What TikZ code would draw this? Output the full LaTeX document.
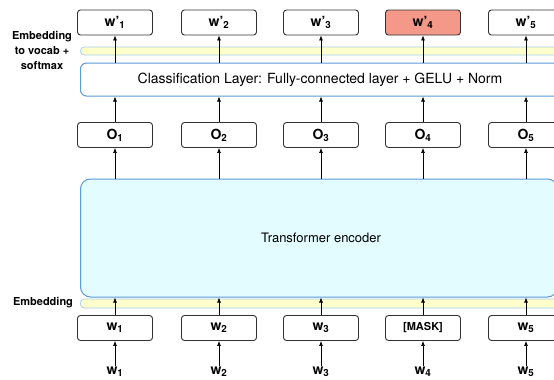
\documentclass[tikz,border=0pt]{standalone}
\usepackage{fontspec}
\setmainfont{TeX Gyre Heros}
\usetikzlibrary{arrows.meta, calc}

\definecolor{layerblue}{HTML}{5B9BD5}
\definecolor{bandblue}{HTML}{A9CDEB}
\definecolor{bandyellow}{HTML}{FFFFCC}
\definecolor{encfill}{HTML}{E2FCFF}
\definecolor{maskred}{HTML}{F4988A}

\begin{document}
\begin{tikzpicture}[x=1pt, y=-1pt]

            \tikzstyle{tokbox} = [draw=black!80, line width=0.9pt, rounded corners=3pt, minimum width=75pt, minimum height=25pt, inner sep=0, font=\fontsize{14}{16}\selectfont\bfseries];
            \tikzstyle{band} = [draw=bandblue, fill=bandyellow, line width=0.8pt, rounded corners=4pt];
            \tikzstyle{layer} = [draw=layerblue, line width=1pt, rounded corners=6pt, inner sep=0];
            \tikzstyle{sidelabel} = [font=\fontsize{11}{15}\selectfont\bfseries, align=center, inner sep=0];
            \tikzstyle{inlabel} = [font=\fontsize{14}{16}\selectfont\bfseries, inner sep=1pt];
            \tikzstyle{arrow} = [line width=0.7pt, -{Latex[length=5pt, width=4pt]}];

            \clip (0,0) rectangle (554,380);

            % output tokens
            \node[tokbox] (wp1) at (115,22.5) {w’\textsubscript{1}};
            \node[tokbox] (wp2) at (219,22.5) {w’\textsubscript{2}};
            \node[tokbox] (wp3) at (321,22.5) {w’\textsubscript{3}};
            \node[tokbox, fill=maskred] (wp4) at (423,22.5) {w’\textsubscript{4}};
            \node[tokbox] (wp5) at (526,22.5) {w’\textsubscript{5}};

            % bands and layers
            \node[band, minimum width=500pt, minimum height=8pt, anchor=west] (topband) at (80,51) {};
            \node[layer, minimum width=482pt, minimum height=33pt, anchor=west] (cls) at (80,79.5) {};
            \node[font=\fontsize{14}{16}\selectfont] (clstext) at (320,79.5) {Classification Layer: Fully-connected layer + GELU + Norm};

            \node[tokbox] (o1) at (115,135) {O\textsubscript{1}};
            \node[tokbox] (o2) at (219,135) {O\textsubscript{2}};
            \node[tokbox] (o3) at (321,135) {O\textsubscript{3}};
            \node[tokbox] (o4) at (423,135) {O\textsubscript{4}};
            \node[tokbox] (o5) at (526,135) {O\textsubscript{5}};

            \node[layer, fill=encfill, rounded corners=10pt, minimum width=477pt, minimum height=118pt, anchor=west] (enc) at (80,238) {};
            \node[font=\fontsize{13}{15}\selectfont] (enctext) at (321,238) {Transformer encoder};

            \node[band, minimum width=500pt, minimum height=9pt, anchor=west] (botband) at (80,303.5) {};

            % input tokens
            \node[tokbox] (w1) at (115,328) {w\textsubscript{1}};
            \node[tokbox] (w2) at (219,328) {w\textsubscript{2}};
            \node[tokbox] (w3) at (321,328) {w\textsubscript{3}};
            \node[tokbox, font=\fontsize{11}{12}\selectfont\bfseries] (w4) at (423,328) {[MASK]};
            \node[tokbox] (w5) at (526,328) {w\textsubscript{5}};

            \node[inlabel] (in1) at (115,372) {w\textsubscript{1}};
            \node[inlabel] (in2) at (219,372) {w\textsubscript{2}};
            \node[inlabel] (in3) at (321,372) {w\textsubscript{3}};
            \node[inlabel] (in4) at (423,372) {w\textsubscript{4}};
            \node[inlabel] (in5) at (526,372) {w\textsubscript{5}};

            % side labels
            \node[sidelabel] (vocablabel) at (42,50) {Embedding\\to vocab +\\softmax};
            \node[sidelabel] (emblabel) at (43,303) {Embedding};

            % arrows
            \draw[arrow] (in1) -- (w1);
            \draw[arrow] (in2) -- (w2);
            \draw[arrow] (in3) -- (w3);
            \draw[arrow] (in4) -- (w4);
            \draw[arrow] (in5) -- (w5);

            \draw[arrow] (w1) -- (w1 |- enc.south);
            \draw[arrow] (w2) -- (w2 |- enc.south);
            \draw[arrow] (w3) -- (w3 |- enc.south);
            \draw[arrow] (w4) -- (w4 |- enc.south);
            \draw[arrow] (w5) -- (w5 |- enc.south);

            \draw[arrow] (enc.north -| o1) -- (o1);
            \draw[arrow] (enc.north -| o2) -- (o2);
            \draw[arrow] (enc.north -| o3) -- (o3);
            \draw[arrow] (enc.north -| o4) -- (o4);
            \draw[arrow] (enc.north -| o5) -- (o5);

            \draw[arrow] (o1) -- (o1 |- cls.south);
            \draw[arrow] (o2) -- (o2 |- cls.south);
            \draw[arrow] (o3) -- (o3 |- cls.south);
            \draw[arrow] (o4) -- (o4 |- cls.south);
            \draw[arrow] (o5) -- (o5 |- cls.south);

            \draw[arrow] (cls.north -| wp1) -- (wp1);
            \draw[arrow] (cls.north -| wp2) -- (wp2);
            \draw[arrow] (cls.north -| wp3) -- (wp3);
            \draw[arrow] (cls.north -| wp4) -- (wp4);
            \draw[arrow] (cls.north -| wp5) -- (wp5);

        \end{tikzpicture}
\end{document}
